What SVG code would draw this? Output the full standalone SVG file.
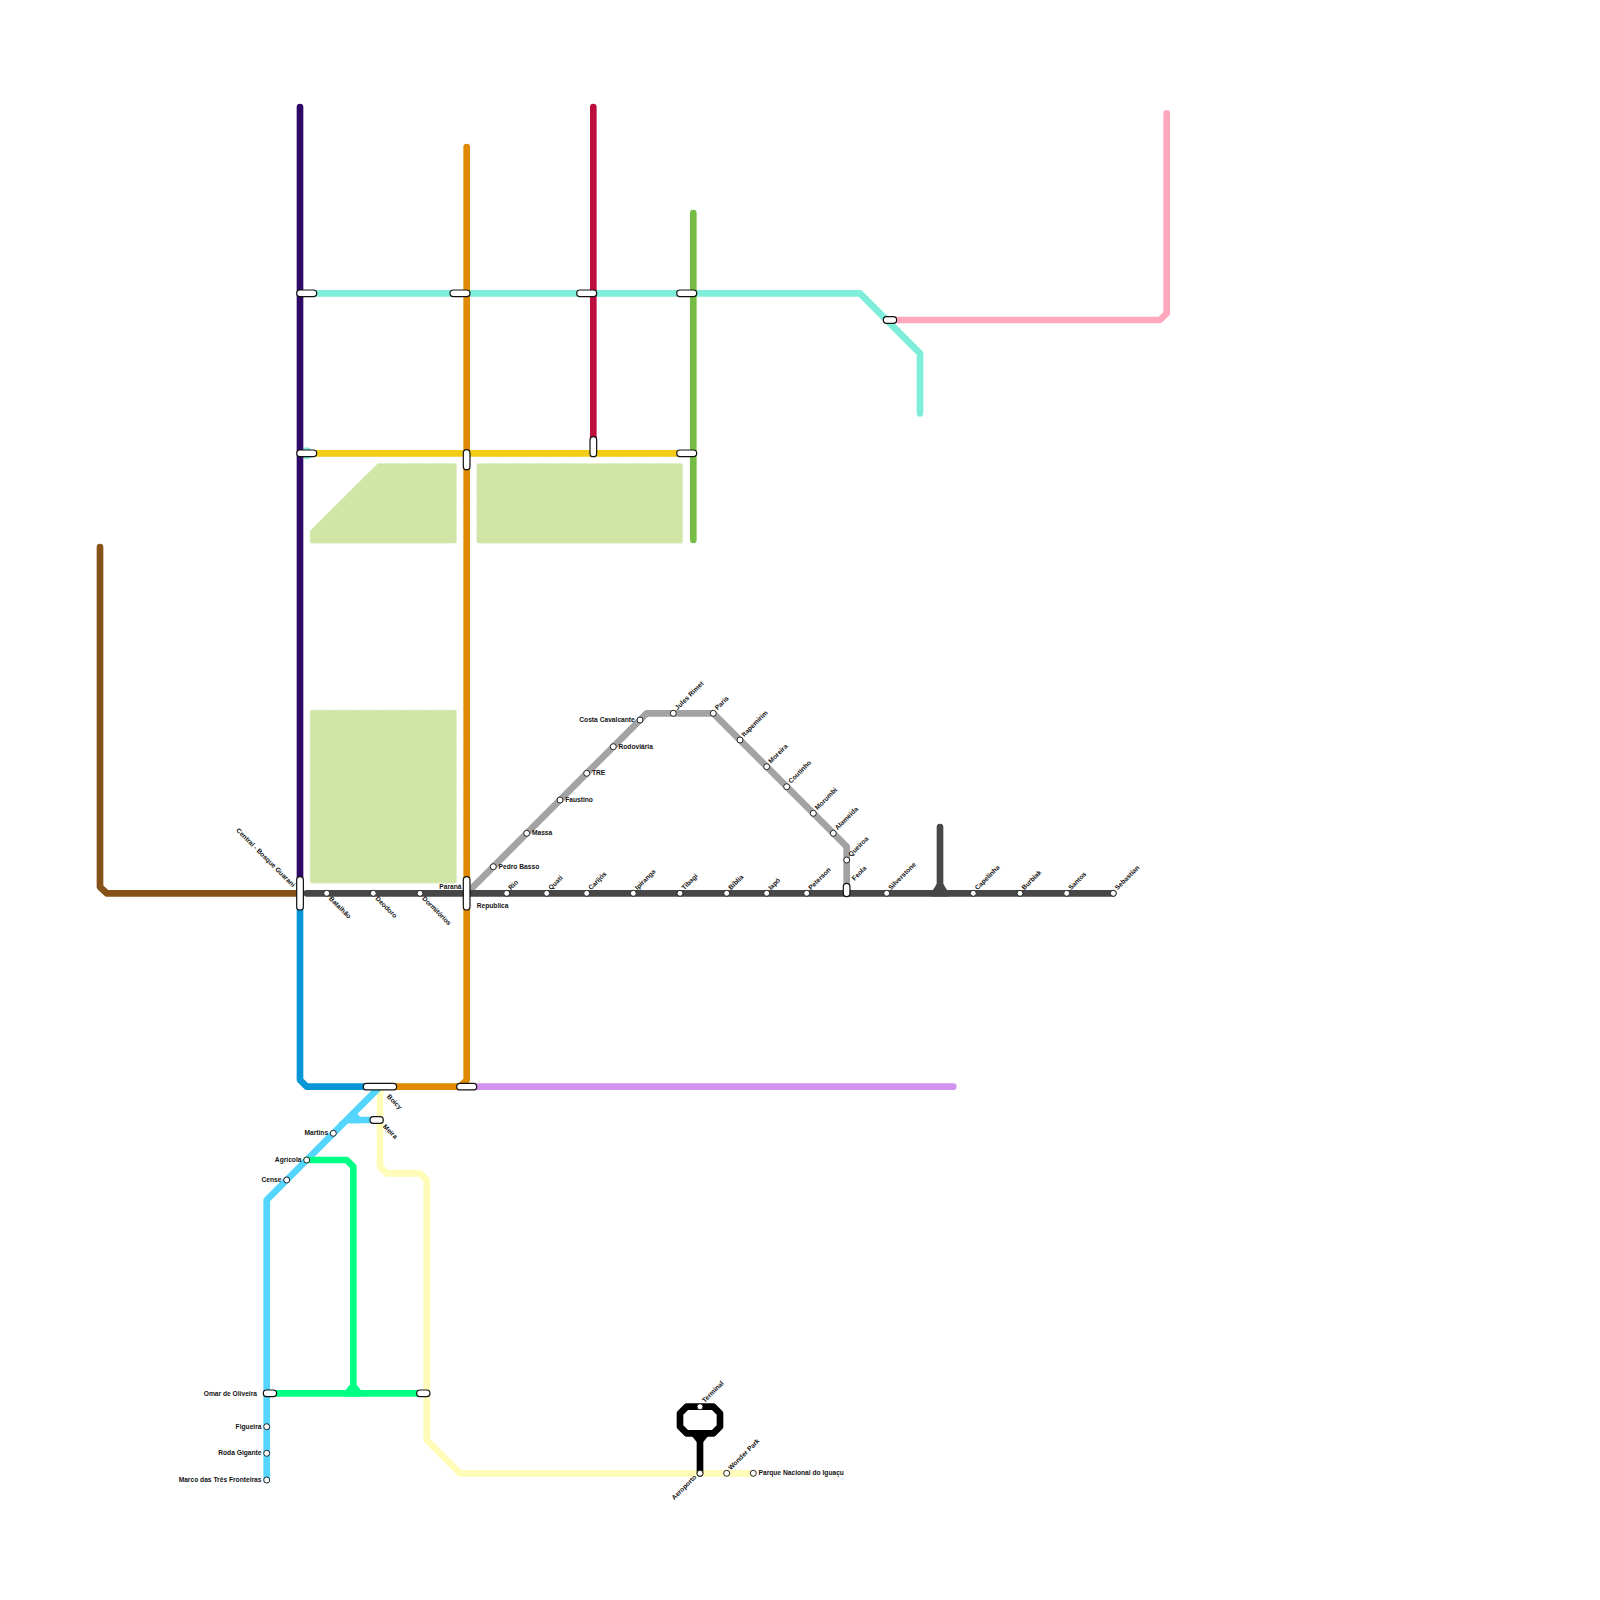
<svg xmlns="http://www.w3.org/2000/svg" width="1600" height="1600" viewBox="0 0 1600 1600">
<style>
.ln{fill:none;stroke-width:6.67;stroke-linecap:round;stroke-linejoin:round}
.ar{fill:#d0e5a6;stroke:#e8f2d6;stroke-width:1;stroke-dasharray:4 2}
.st{fill:#fff;stroke:#222;stroke-width:1}
.pl{fill:#fff;stroke:#111;stroke-width:1.2}
text{font-family:"Liberation Sans",Arial,sans-serif;font-size:6.67px;font-weight:700;fill:#111;opacity:.99}
.e{text-anchor:end}
</style>
<rect width="1600" height="1600" fill="#fff"/>
<g id="areas">
<path class="ar" d="M312 543.300H454.700Q456.700 543.300 456.700 541.300V465.300Q456.700 463.300 454.700 463.300H378L310 531V541.300Q310 543.300 312 543.300Z"/>
<rect class="ar" x="476.700" y="463.300" width="206" height="80" rx="2"/>
<rect class="ar" x="310" y="710" width="146.700" height="173.300" rx="2"/>
</g>
<g id="connectors">
<circle cx="306.700" cy="453.300" r="6" fill="#7eeeda"/>
<path class="ln" stroke="#7eeeda" d="M300 293.300H860L920 353.300V413.300"/>
<path class="ln" stroke="#ffa8bd" d="M890 320H1160L1166.700 313.300V113.300"/>
<path class="ln" stroke="#d292ef" d="M466.700 1086.700H953.300"/>
<path class="ln" stroke="#a3a3a3" d="M466.700 893.300L646.700 713.300H713.300L846.700 846.700V890"/>
<path class="ln" stroke="#fffbb8" d="M380 1086.700V1166.700L386.700 1173.300H420L426.700 1180V1440L460 1473.300H753.300"/>
<path class="ln" stroke="#85521a" d="M300 893.300H106.700L100 887V547"/>
<path class="ln" stroke="#0896d7" d="M300 893.300V1080L306.700 1086.700H380"/>
<path class="ln" stroke="#e08a00" d="M466.700 147V1080L460 1086.700H380"/>
<path class="ln" stroke="#76bd45" d="M693.300 213V540"/>
<path class="ln" stroke="#bd0f3e" d="M593.300 107V446.700"/>
<path class="ln" stroke="#f2cc17" d="M306.700 453.300H686.700"/>
<path class="ln" stroke="#2e0a66" d="M300 107V893.300"/>
<path class="ln" stroke="#53d5fd" d="M266.700 1480V1200L380 1086.700M346.700 1120H376.700"/>
<path fill="#53d5fd" d="M338 1123.300H360V1116.700L355 1111.500L338 1123.300Z"/>
<path class="ln" stroke="#00ff85" d="M306.700 1160H346.700L353.300 1166.700V1393.300M270 1393.300H423.300"/>
<path fill="#00ff85" d="M345 1396.600H361.600V1391L357 1385H349.600L345 1391Z"/>
<path class="ln" stroke="#474747" d="M306.700 893.300H1113.300M940 827V893.300"/>
<path fill="#474747" d="M931 896.600H949V893L943.300 884H936.700L931 893Z"/>
<path class="ln" stroke="#000" d="M686.700 1406.700H713.300L720 1413.300V1426.700L713.300 1433.300H686.700L680 1426.700V1413.300ZM700 1433.300V1473.300"/>
<path fill="#000" d="M691 1435H709L703.300 1442H696.700Z"/>
</g>
<g id="n-central"><rect class="pl" x="296.700" y="876.700" width="6.670" height="33.300" rx="3.300"/><text class="e" transform="translate(292.500 887.500) rotate(45)">Central - Bosque Guarani</text></g>
<g id="n-parana"><rect class="pl" x="463.300" y="876.700" width="6.670" height="33.300" rx="3.300"/><text class="e" x="461.500" y="888.500">Paraná</text><text x="476.700" y="908">Republica</text></g>
<g id="n-i1"><rect class="pl" x="296.700" y="290" width="20" height="6.670" rx="3.300"/></g>
<g id="n-i2"><rect class="pl" x="450" y="290" width="20" height="6.670" rx="3.300"/></g>
<g id="n-i3"><rect class="pl" x="576.700" y="290" width="20" height="6.670" rx="3.300"/></g>
<g id="n-i4"><rect class="pl" x="676.700" y="290" width="20" height="6.670" rx="3.300"/></g>
<g id="n-i5"><rect class="pl" x="296.700" y="450" width="20" height="6.670" rx="3.300"/></g>
<g id="n-i6"><rect class="pl" x="463.300" y="449.700" width="6.670" height="20" rx="3.300"/></g>
<g id="n-i7"><rect class="pl" x="590" y="436.700" width="6.670" height="20" rx="3.300"/></g>
<g id="n-i8"><rect class="pl" x="676.700" y="450" width="20" height="6.670" rx="3.300"/></g>
<g id="n-i9"><rect class="pl" x="883.300" y="316.700" width="13.300" height="6.670" rx="3.300"/></g>
<g id="n-i10"><rect class="pl" x="456.700" y="1083.300" width="20" height="6.670" rx="3.300"/></g>
<g id="n-i11"><rect class="pl" x="416.700" y="1390" width="13.300" height="6.670" rx="3.300"/></g>
<g id="n-boicy"><rect class="pl" x="363.300" y="1083.300" width="33.300" height="6.670" rx="3.300"/><text transform="translate(386.500 1097) rotate(45)">Boicy</text></g>
<g id="n-meira"><rect class="pl" x="370" y="1116.700" width="13.300" height="6.670" rx="3.300"/><text transform="translate(382.500 1127) rotate(45)">Meira</text></g>
<g id="n-omar"><rect class="pl" x="263.300" y="1390" width="13.300" height="6.670" rx="3.300"/><text class="e" x="257" y="1395.500">Omar de Oliveira</text></g>
<g id="n-feola"><rect class="pl" x="843.300" y="883.300" width="6.670" height="13.300" rx="3.300"/><text transform="translate(854.500 881) rotate(-45)">Feola</text></g>
<g id="n-batalhao"><circle class="st" cx="326.700" cy="893.300" r="3"/><text transform="translate(328.500 899) rotate(45)">Batalhão</text></g>
<g id="n-deodoro"><circle class="st" cx="373.300" cy="893.300" r="3"/><text transform="translate(375.100 899) rotate(45)">Deodoro</text></g>
<g id="n-dormitorios"><circle class="st" cx="420" cy="893.300" r="3"/><text transform="translate(421.800 899) rotate(45)">Dormitórios</text></g>
<g id="n-rio"><circle class="st" cx="506.700" cy="893.300" r="3"/><text transform="translate(511 890.300) rotate(-45)">Rio</text></g>
<g id="n-quati"><circle class="st" cx="546.700" cy="893.300" r="3"/><text transform="translate(551 890.300) rotate(-45)">Quati</text></g>
<g id="n-carijos"><circle class="st" cx="586.700" cy="893.300" r="3"/><text transform="translate(591 890.300) rotate(-45)">Carijós</text></g>
<g id="n-ipiranga"><circle class="st" cx="633.300" cy="893.300" r="3"/><text transform="translate(637.600 890.300) rotate(-45)">Ipiranga</text></g>
<g id="n-tibagi"><circle class="st" cx="680" cy="893.300" r="3"/><text transform="translate(684.300 890.300) rotate(-45)">Tibagi</text></g>
<g id="n-biblia"><circle class="st" cx="726.700" cy="893.300" r="3"/><text transform="translate(731 890.300) rotate(-45)">Bíblia</text></g>
<g id="n-iapo"><circle class="st" cx="766.700" cy="893.300" r="3"/><text transform="translate(771 890.300) rotate(-45)">Iapó</text></g>
<g id="n-peterson"><circle class="st" cx="806.700" cy="893.300" r="3"/><text transform="translate(811 890.300) rotate(-45)">Peterson</text></g>
<g id="n-silverstone"><circle class="st" cx="886.700" cy="893.300" r="3"/><text transform="translate(891 890.300) rotate(-45)">Silverstone</text></g>
<g id="n-capelinha"><circle class="st" cx="973.300" cy="893.300" r="3"/><text transform="translate(977.600 890.300) rotate(-45)">Capelinha</text></g>
<g id="n-burbiak"><circle class="st" cx="1020" cy="893.300" r="3"/><text transform="translate(1024.300 890.300) rotate(-45)">Burbiak</text></g>
<g id="n-santos"><circle class="st" cx="1066.700" cy="893.300" r="3"/><text transform="translate(1071 890.300) rotate(-45)">Santos</text></g>
<g id="n-sebastian"><circle class="st" cx="1113.300" cy="893.300" r="3"/><text transform="translate(1117.600 890.300) rotate(-45)">Sebastian</text></g>
<g id="n-pedro"><circle class="st" cx="493.300" cy="866.700" r="3"/><text x="498.500" y="868.700">Pedro Basso</text></g>
<g id="n-massa"><circle class="st" cx="526.700" cy="833.300" r="3"/><text x="531.900" y="835.300">Massa</text></g>
<g id="n-faustino"><circle class="st" cx="560" cy="800" r="3"/><text x="565.200" y="802">Faustino</text></g>
<g id="n-tre"><circle class="st" cx="586.700" cy="773.300" r="3"/><text x="591.900" y="775.300">TRE</text></g>
<g id="n-rodoviaria"><circle class="st" cx="613.300" cy="746.700" r="3"/><text x="618.500" y="748.700">Rodoviária</text></g>
<g id="n-costa"><circle class="st" cx="640" cy="720" r="3"/><text class="e" x="634.800" y="722">Costa Cavalcante</text></g>
<g id="n-jules"><circle class="st" cx="673.300" cy="713.300" r="3"/><text transform="translate(677.600 710.300) rotate(-45)">Jules Rimet</text></g>
<g id="n-paris"><circle class="st" cx="713.300" cy="713.300" r="3"/><text transform="translate(717.600 710.300) rotate(-45)">Paris</text></g>
<g id="n-itapemirim"><circle class="st" cx="740" cy="740" r="3"/><text transform="translate(744.300 737) rotate(-45)">Itapemirim</text></g>
<g id="n-moreira"><circle class="st" cx="766.700" cy="766.700" r="3"/><text transform="translate(771 763.700) rotate(-45)">Moreira</text></g>
<g id="n-coutinho"><circle class="st" cx="786.700" cy="786.700" r="3"/><text transform="translate(791 783.700) rotate(-45)">Coutinho</text></g>
<g id="n-morumbi"><circle class="st" cx="813.300" cy="813.300" r="3"/><text transform="translate(817.600 810.300) rotate(-45)">Morumbi</text></g>
<g id="n-alameida"><circle class="st" cx="833.300" cy="833.300" r="3"/><text transform="translate(837.600 830.300) rotate(-45)">Alameida</text></g>
<g id="n-queiroa"><circle class="st" cx="846.700" cy="860" r="3"/><text transform="translate(851 857) rotate(-45)">Queiroa</text></g>
<g id="n-martins"><circle class="st" cx="333.300" cy="1133.300" r="3"/><text class="e" x="328.100" y="1135.300">Martins</text></g>
<g id="n-agricola"><circle class="st" cx="306.700" cy="1160" r="3"/><text class="e" x="301.500" y="1162">Agrícola</text></g>
<g id="n-cense"><circle class="st" cx="286.700" cy="1180" r="3"/><text class="e" x="281.500" y="1182">Cense</text></g>
<g id="n-figueira"><circle class="st" cx="266.700" cy="1426.700" r="3"/><text class="e" x="261.500" y="1428.700">Figueira</text></g>
<g id="n-roda"><circle class="st" cx="266.700" cy="1453.300" r="3"/><text class="e" x="261.500" y="1455.300">Roda Gigante</text></g>
<g id="n-marco"><circle class="st" cx="266.700" cy="1480" r="3"/><text class="e" x="261.500" y="1482">Marco das Três Fronteiras</text></g>
<g id="n-terminal"><circle class="st" cx="700" cy="1406.700" r="3"/><text transform="translate(704.800 1403) rotate(-45)">Terminal</text></g>
<g id="n-aeroporto"><circle class="st" cx="700" cy="1473.300" r="3"/><text class="e" transform="translate(697 1477.500) rotate(-45)">Aeroporto</text></g>
<g id="n-wonder"><circle class="st" cx="726.700" cy="1473.300" r="3"/><text transform="translate(731 1470.300) rotate(-45)">Wonder Park</text></g>
<g id="n-parque"><circle class="st" cx="753.300" cy="1473.300" r="3"/><text x="758.500" y="1475.300">Parque Nacional do Iguaçu</text></g>
</svg>
